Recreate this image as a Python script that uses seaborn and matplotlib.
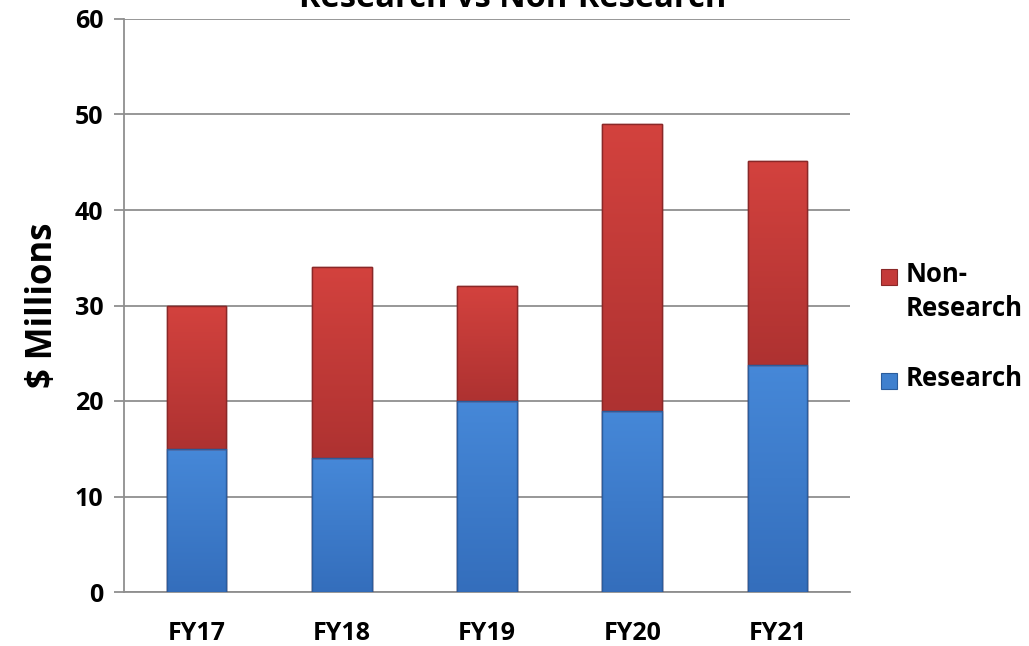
import matplotlib
matplotlib.use("Agg")
import matplotlib.pyplot as plt
import seaborn as sns
import pandas as pd
import numpy as np
from matplotlib.patches import Rectangle
from matplotlib.colors import LinearSegmentedColormap

categories = ["FY17", "FY18", "FY19", "FY20", "FY21"]
research = [15, 14, 20, 19, 23.8]
non_research = [15, 20, 12, 30, 21.3]
series_labels = ["Non-\nResearch", "Research"]
title = "Research vs Non-Research"
ylabel = r"\$ Millions"

RED = "#C43A39"
BLUE = "#3F80CE"
RED_TOP, RED_BOT = "#D3423E", "#AE3231"
BLUE_TOP, BLUE_BOT = "#4688D8", "#346EBC"

sns.set_theme(style="white")
plt.rcParams["font.family"] = ["Open Sans", "DejaVu Sans"]
plt.rcParams["font.weight"] = "bold"
plt.rcParams["text.color"] = "black"
plt.rcParams["axes.labelcolor"] = "black"
plt.rcParams["xtick.color"] = "black"
plt.rcParams["ytick.color"] = "black"

totals = [r + n for r, n in zip(research, non_research)]
df = pd.DataFrame({"cat": categories, "research": research, "total": totals})

fig = plt.figure(figsize=(10.29, 6.46), dpi=100)
ax = fig.add_axes([124 / 1029, 1 - 592 / 646, (850 - 124) / 1029, (592 - 19) / 646])

sns.barplot(data=df, x="cat", y="total", color=RED, saturation=1, width=0.41,
            edgecolor="#8A2828", linewidth=1.0, ax=ax, zorder=3)
n_red = len(ax.patches)
sns.barplot(data=df, x="cat", y="research", color=BLUE, saturation=1, width=0.41,
            edgecolor="#2A5C9C", linewidth=1.0, ax=ax, zorder=3)

ax.set_xlim(-0.5, 4.5)
ax.set_ylim(0, 60)

# vertical gradient fill within each visible segment
red_cmap = LinearSegmentedColormap.from_list("r", [RED_BOT, RED_TOP])
blue_cmap = LinearSegmentedColormap.from_list("b", [BLUE_BOT, BLUE_TOP])
grad = np.linspace(0, 1, 256).reshape(-1, 1)
for i, p in enumerate(ax.patches):
    x0, y0 = p.get_x(), p.get_y()
    w, h = p.get_width(), p.get_height()
    if i < n_red:
        bottom = research[i]
        cmap = red_cmap
    else:
        bottom = 0
        cmap = blue_cmap
    im = ax.imshow(grad, cmap=cmap, origin="lower", aspect="auto",
                   extent=(x0, x0 + w, bottom, y0 + h), zorder=3.5)
    im.set_clip_path(p)
    edge = Rectangle((x0, bottom), w, y0 + h - bottom, fill=False,
                     edgecolor=p.get_edgecolor(), linewidth=1.0, zorder=4)
    ax.add_patch(edge)
ax.set_xlim(-0.5, 4.5)
ax.set_ylim(0, 60)

ax.set_yticks(range(0, 61, 10))
ax.grid(axis="y", color="#8F8F8F", linewidth=1.3, zorder=0)
ax.set_axisbelow(True)
for s in ["top", "right"]:
    ax.spines[s].set_visible(False)
for s in ["left", "bottom"]:
    ax.spines[s].set_color("#8F8F8F")
    ax.spines[s].set_linewidth(1.3)

ax.set_xticks(range(5))
ax.set_xticklabels(categories, fontsize=18, fontweight="bold")
ax.tick_params(axis="x", length=0, pad=21)
ax.set_xticks([i - 0.5 for i in range(6)], minor=True)
ax.tick_params(axis="x", which="minor", length=7, color="#8F8F8F", width=1.3, direction="out")
ax.tick_params(axis="y", labelsize=18, length=7, color="#8F8F8F", width=1.3, direction="out", left=True, pad=8)
for t in ax.get_yticklabels():
    t.set_fontweight("bold")

ax.set_xlabel("")
ax.set_ylabel(ylabel, fontsize=25, fontweight="bold", labelpad=10)

fig.text(513 / 1029, 1 - 7 / 646, title, ha="center", va="baseline",
         fontsize=23.5, fontweight="bold")

# legend (manual layout to match the reference: marker aligned with first line)
leg_colors = [(RED, "#8A2828"), (BLUE, "#2A5C9C")]
leg_rows = [277, 381]  # y centre (px from top) of first text line of each entry
for (fc, ec), lab, yc in zip(leg_colors, series_labels, leg_rows):
    fig.patches.append(Rectangle((881 / 1029, 1 - (yc + 8) / 646), 16 / 1029, 16 / 646,
                                 transform=fig.transFigure, facecolor=fc, edgecolor=ec,
                                 linewidth=0.8, figure=fig))
    fig.text(906 / 1029, 1 - (yc - 16) / 646, lab, ha="left", va="top",
             fontsize=18.5, fontweight="bold", linespacing=1.35)

fig.savefig("out.png", dpi=100)
